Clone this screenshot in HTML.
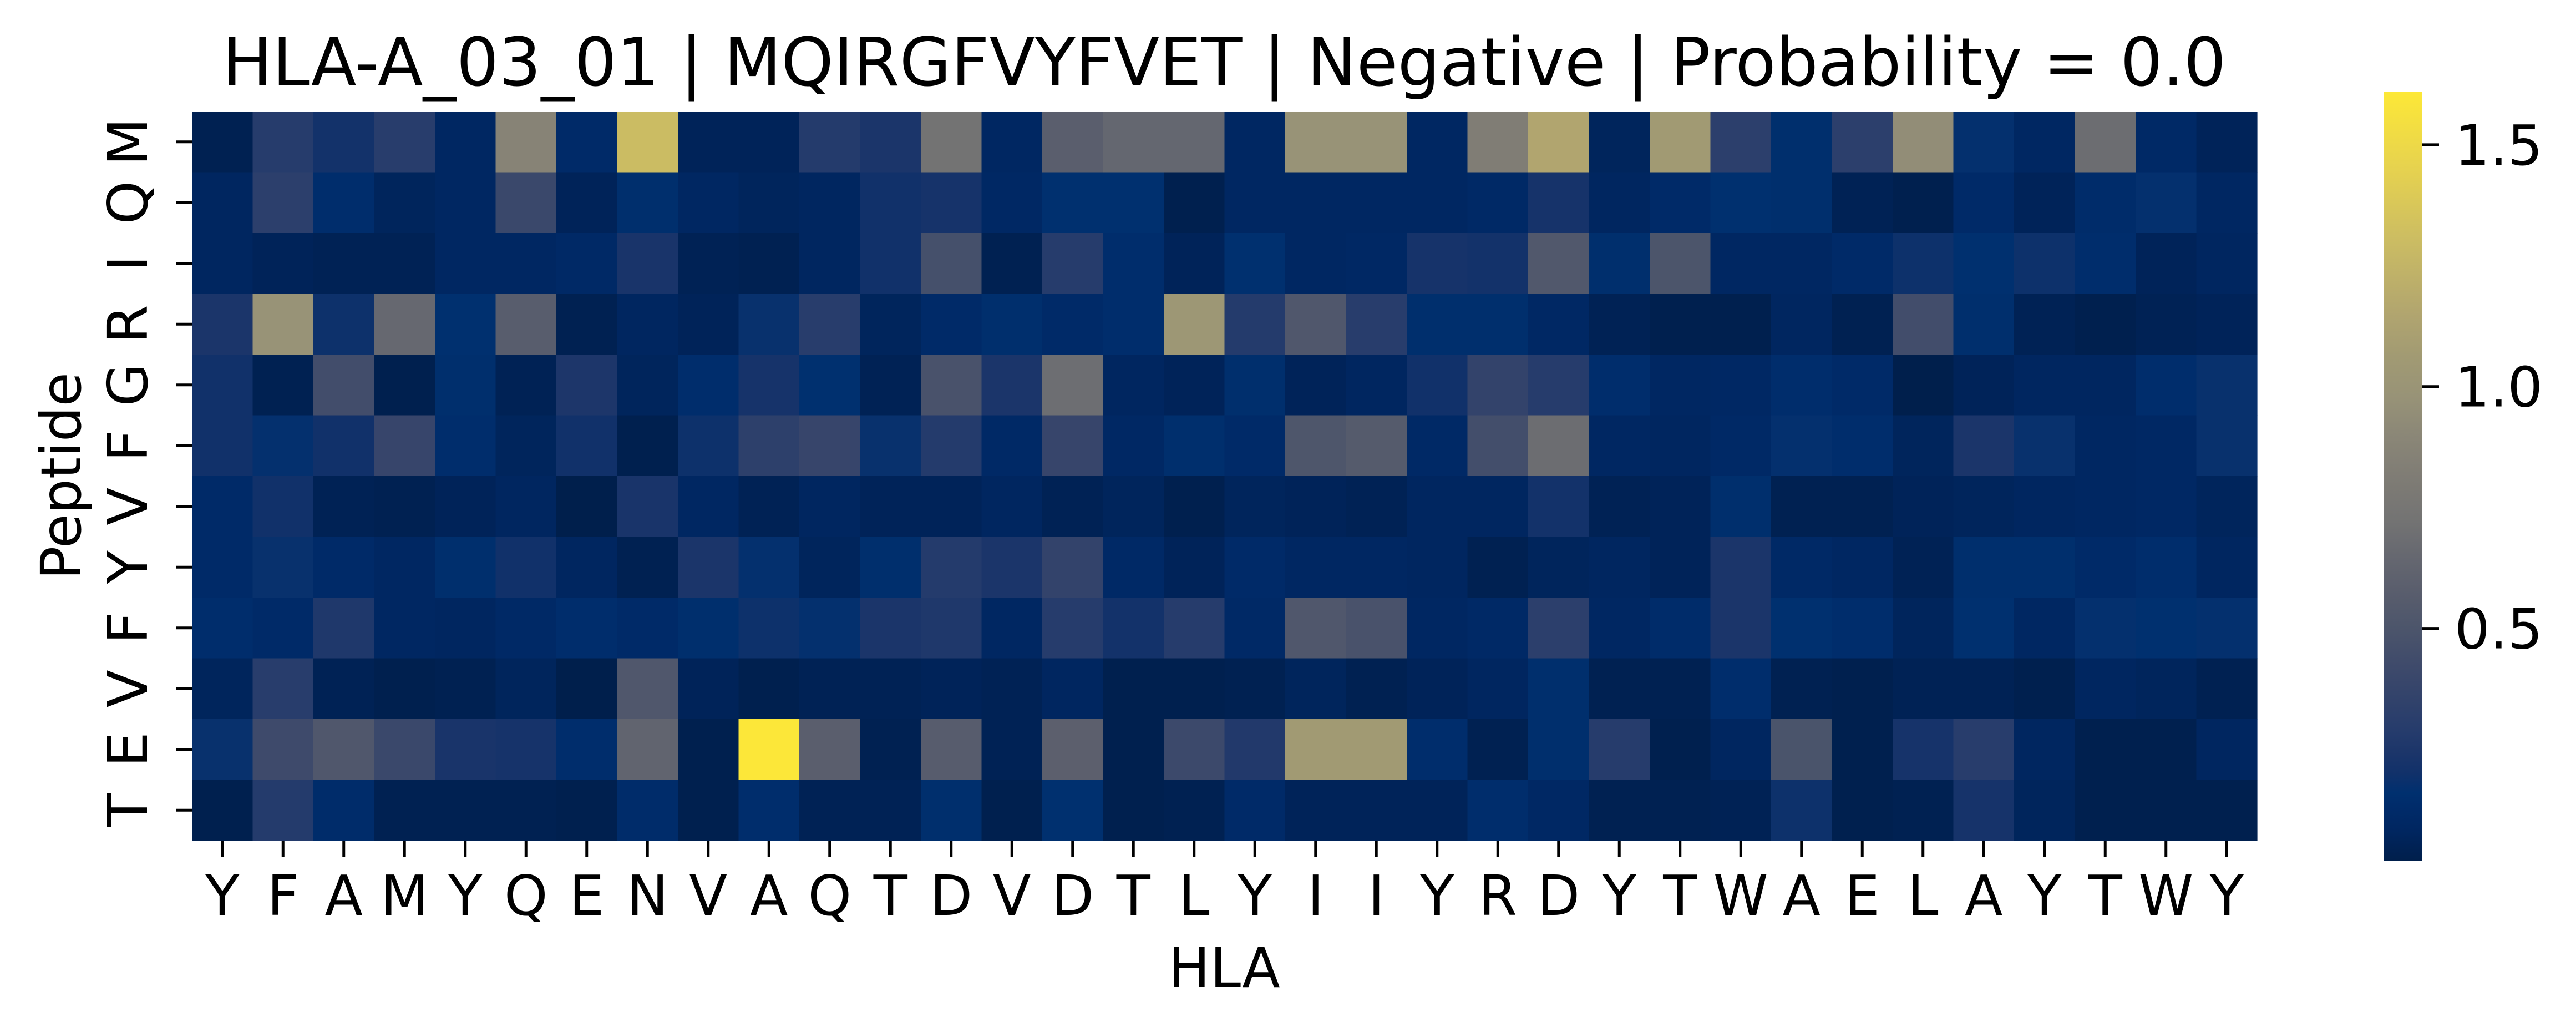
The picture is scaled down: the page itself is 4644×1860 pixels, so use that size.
<!DOCTYPE html>
<html><head><meta charset="utf-8"><style>
html,body{margin:0;padding:0;background:#fff;}
svg{display:block;font-family:"DejaVu Sans","Liberation Sans",sans-serif;}
</style></head><body>
<svg id="chart" width="4644" height="1860" viewBox="0 0 4644 1860" xmlns="http://www.w3.org/2000/svg">
<text x="2207" y="154" font-size="120" text-anchor="middle" fill="#000">HLA-A_03_01 | MQIRGFVYFVET | Negative | Probability = 0.0</text>
<g id="cells"></g>
<g id="axes"></g>
<text x="2207" y="1779" font-size="100" text-anchor="middle" fill="#000">HLA</text>
<text transform="translate(145,858) rotate(-90)" font-size="100" text-anchor="middle" fill="#000">Peptide</text>
<defs><linearGradient id="cbg" x1="0" y1="1" x2="0" y2="0"></linearGradient></defs>
<rect x="4298" y="165" width="69" height="1386" fill="url(#cbg)"/>
<g id="cbar"></g>
</svg>
<script>
const xLabels = ["Y","F","A","M","Y","Q","E","N","V","A","Q","T","D","V","D","T","L","Y","I","I","Y","R","D","Y","T","W","A","E","L","A","Y","T","W","Y"];
const yLabels = ["M","Q","I","R","G","F","V","Y","F","V","E","T"];
const rowM = [0.04,0.29,0.21,0.30,0.09,0.87,0.12,1.30,0.06,0.06,0.28,0.24,0.72,0.09,0.58,0.64,0.64,0.09,0.98,0.98,0.09,0.82,1.15,0.07,1.06,0.32,0.15,0.32,0.94,0.17,0.09,0.68,0.11,0.06];
const rowQ = [0.08,0.32,0.14,0.07,0.09,0.40,0.06,0.15,0.09,0.07,0.08,0.20,0.22,0.10,0.16,0.16,0.03,0.09,0.09,0.09,0.09,0.11,0.22,0.08,0.12,0.16,0.15,0.05,0.03,0.12,0.06,0.13,0.17,0.09];
const rowI = [0.08,0.06,0.05,0.05,0.09,0.09,0.11,0.23,0.05,0.04,0.08,0.20,0.46,0.04,0.29,0.14,0.06,0.16,0.09,0.10,0.22,0.21,0.53,0.15,0.50,0.09,0.09,0.12,0.19,0.16,0.19,0.14,0.06,0.08];
const rowR = [0.24,0.98,0.19,0.65,0.16,0.57,0.04,0.08,0.06,0.18,0.30,0.07,0.12,0.15,0.12,0.14,1.02,0.28,0.52,0.30,0.15,0.15,0.10,0.05,0.03,0.03,0.08,0.04,0.44,0.15,0.05,0.03,0.05,0.06];
const rowG = [0.20,0.04,0.44,0.03,0.15,0.05,0.25,0.07,0.14,0.22,0.16,0.05,0.48,0.24,0.69,0.08,0.06,0.15,0.06,0.08,0.20,0.36,0.29,0.14,0.09,0.10,0.14,0.12,0.02,0.06,0.08,0.08,0.14,0.18];
const rowF1 = [0.20,0.17,0.20,0.38,0.14,0.07,0.20,0.03,0.19,0.33,0.38,0.18,0.28,0.11,0.38,0.10,0.15,0.12,0.51,0.55,0.11,0.45,0.68,0.09,0.08,0.11,0.17,0.14,0.07,0.24,0.18,0.09,0.10,0.18];
const rowV1 = [0.12,0.20,0.05,0.04,0.06,0.08,0.02,0.23,0.09,0.05,0.08,0.06,0.06,0.08,0.05,0.07,0.03,0.07,0.06,0.05,0.08,0.08,0.21,0.05,0.06,0.15,0.04,0.04,0.06,0.07,0.08,0.09,0.10,0.07];
const rowY = [0.12,0.18,0.12,0.09,0.15,0.20,0.08,0.04,0.24,0.17,0.07,0.15,0.28,0.24,0.36,0.11,0.06,0.12,0.09,0.09,0.08,0.04,0.07,0.08,0.06,0.24,0.11,0.09,0.05,0.15,0.15,0.12,0.14,0.08];
const rowF2 = [0.14,0.12,0.26,0.09,0.08,0.11,0.14,0.12,0.15,0.19,0.17,0.24,0.26,0.09,0.29,0.21,0.29,0.11,0.52,0.48,0.09,0.11,0.32,0.09,0.13,0.24,0.16,0.14,0.07,0.16,0.09,0.17,0.16,0.17];
const rowV2 = [0.07,0.30,0.05,0.03,0.04,0.07,0.02,0.52,0.06,0.03,0.05,0.05,0.06,0.05,0.08,0.03,0.03,0.04,0.07,0.04,0.06,0.08,0.15,0.04,0.04,0.14,0.04,0.03,0.05,0.05,0.03,0.08,0.07,0.04];
const rowE = [0.18,0.42,0.52,0.40,0.23,0.22,0.14,0.62,0.03,1.60,0.58,0.04,0.56,0.05,0.59,0.03,0.41,0.27,1.06,1.06,0.14,0.04,0.15,0.29,0.03,0.08,0.49,0.03,0.22,0.30,0.08,0.03,0.03,0.08];
const rowT = [0.03,0.28,0.13,0.04,0.04,0.04,0.03,0.13,0.03,0.14,0.05,0.05,0.15,0.03,0.16,0.03,0.04,0.12,0.06,0.06,0.06,0.14,0.10,0.04,0.04,0.05,0.19,0.03,0.04,0.22,0.07,0.03,0.03,0.03];
const values = [rowM,rowQ,rowI,rowR,rowG,rowF1,rowV1,rowY,rowF2,rowV2,rowE,rowT];
const cbTicks = [0.5,1.0,1.5];
const cbTickLabels = ["0.5","1.0","1.5"];
const vMin = 0.02, vMax = 1.61;

const stops = [[0.02,"#001f4c"],[0.05,"#002255"],[0.08,"#002660"],[0.12,"#002a68"],[0.16,"#00306f"],[0.20,"#11316a"],[0.24,"#1b356a"],[0.29,"#263c6c"],[0.35,"#31426b"],[0.42,"#3e4a6b"],[0.50,"#4c556b"],[0.58,"#5a5e6d"],[0.65,"#666870"],[0.72,"#737373"],[0.82,"#807d75"],[0.90,"#8b8777"],[0.98,"#989377"],[1.06,"#a19a73"],[1.15,"#b1a56f"],[1.30,"#cbbc63"],[1.45,"#e6d24f"],[1.61,"#fde837"]];
function hex(c){return [1,3,5].map(i=>parseInt(c.substr(i,2),16));}
function color(v){
  if(v<=stops[0][0]) return stops[0][1];
  for(let i=1;i<stops.length;i++){
    if(v<=stops[i][0]){
      const t=(v-stops[i-1][0])/(stops[i][0]-stops[i-1][0]);
      const a=hex(stops[i-1][1]), b=hex(stops[i][1]);
      return "rgb("+a.map((x,k)=>Math.round(x+(b[k]-x)*t)).join(",")+")";
    }
  }
  return stops[stops.length-1][1];
}
const X0=346, X1=4069, Y0=201, Y1=1515;
const cw=(X1-X0)/xLabels.length, ch=(Y1-Y0)/yLabels.length;
const xPos = i => X0 + i*cw;
const yPos = j => Y0 + j*ch;
const NS="http://www.w3.org/2000/svg";
const cells=document.getElementById("cells");
values.forEach((row,j)=>row.forEach((v,i)=>{
  const r=document.createElementNS(NS,"rect");
  r.setAttribute("x",xPos(i)); r.setAttribute("y",yPos(j));
  r.setAttribute("width",cw+0.6); r.setAttribute("height",ch+0.6);
  r.setAttribute("fill",color(v));
  
  
  cells.appendChild(r);
}));
const axes=document.getElementById("axes");
xLabels.forEach((l,i)=>{
  const cx=xPos(i)+cw/2;
  const t=document.createElementNS(NS,"line");
  t.setAttribute("x1",cx);t.setAttribute("x2",cx);t.setAttribute("y1",Y1);t.setAttribute("y2",Y1+29);
  t.setAttribute("stroke","#000");t.setAttribute("stroke-width","5");
  
  
  axes.appendChild(t);
  const tx=document.createElementNS(NS,"text");
  tx.setAttribute("x",cx);tx.setAttribute("y",1649);tx.setAttribute("font-size","100");tx.setAttribute("text-anchor","middle");
  tx.textContent=l;
  
  
  axes.appendChild(tx);
});
yLabels.forEach((l,j)=>{
  const cy=yPos(j)+ch/2;
  const t=document.createElementNS(NS,"line");
  t.setAttribute("x1",X0-29);t.setAttribute("x2",X0);t.setAttribute("y1",cy);t.setAttribute("y2",cy);
  t.setAttribute("stroke","#000");t.setAttribute("stroke-width","5");
  
  
  axes.appendChild(t);
  const tx=document.createElementNS(NS,"text");
  tx.setAttribute("transform","translate(265,"+cy+") rotate(-90)");
  tx.setAttribute("font-size","100");tx.setAttribute("text-anchor","middle");
  tx.textContent=l;
  
  
  axes.appendChild(tx);
});
const grad=document.getElementById("cbg");
stops.forEach(s=>{
  const st=document.createElementNS(NS,"stop");
  st.setAttribute("offset",((s[0]-vMin)/(vMax-vMin)*100).toFixed(2)+"%");
  st.setAttribute("stop-color",s[1]);
  grad.appendChild(st);
});
const CB0=165, CB1=1551;
const cbY = v => CB1 - (v-vMin)/(vMax-vMin)*(CB1-CB0);
const cbar=document.getElementById("cbar");
cbTicks.forEach((v,k)=>{
  const y=cbY(v);
  const t=document.createElementNS(NS,"line");
  t.setAttribute("x1",4367);t.setAttribute("x2",4397);t.setAttribute("y1",y);t.setAttribute("y2",y);
  t.setAttribute("stroke","#000");t.setAttribute("stroke-width","5");
  
  
  cbar.appendChild(t);
  const tx=document.createElementNS(NS,"text");
  tx.setAttribute("x",4425);tx.setAttribute("y",y+36);tx.setAttribute("font-size","100");
  tx.textContent=cbTickLabels[k];
  
  
  cbar.appendChild(tx);
});
</script>
</body></html>
